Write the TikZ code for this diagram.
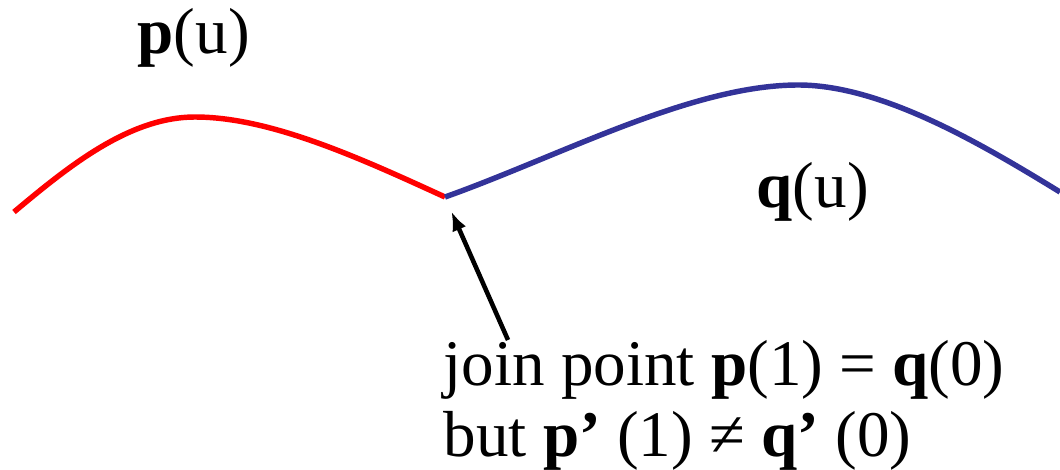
\documentclass[tikz,border=0pt]{standalone}
\usepackage{fontspec}
\setmainfont{Liberation Serif}
\usepackage{xcolor}
\usepackage{tikz}
\usetikzlibrary{arrows.meta}
\definecolor{curveblue}{RGB}{51,51,153}

\begin{document}
\begin{tikzpicture}[x=0.01cm, y=-0.01cm,
  every node/.style={font=\fontsize{18.5}{20}\selectfont, inner sep=0pt},
  curve/.style={line width=1.55pt},
  pointer/.style={line width=1.3pt, -{Latex[length=5.5pt, width=4.2pt]}, shorten >=4.5pt}]
\useasboundingbox (0,0) rectangle (1060,469);
\coordinate (pstart) at (14,212);
\coordinate (ppeak)  at (195,117);
\coordinate (joinpt) at (445,197);
\coordinate (qpeak)  at (796,85);
\coordinate (qend)   at (1060,192);
\coordinate (tail)   at (508,340);
\draw[curve, red] (pstart) .. controls (70,165) and (130,117) .. (ppeak)
  .. controls (270,117) and (360,158) .. (joinpt);
\draw[curve, curveblue] (joinpt) .. controls (560,156) and (690,86) .. (qpeak)
  .. controls (880,84) and (980,143) .. (qend);
\node[anchor=base west] (plabel) at (137,53) {\textbf{p}(u)};
\node[anchor=base west] (qlabel) at (756,207) {\textbf{q}(u)};
\node[anchor=base west] (joinline) at (443,385) {join point \textbf{p}(1) = \textbf{q}(0)};
\node[anchor=base west] (butline)  at (443,456) {but \textbf{p’}~(1) ≠ \textbf{q’}~(0)};
\draw[pointer] (tail) -- (joinpt);
\end{tikzpicture}
\end{document}
